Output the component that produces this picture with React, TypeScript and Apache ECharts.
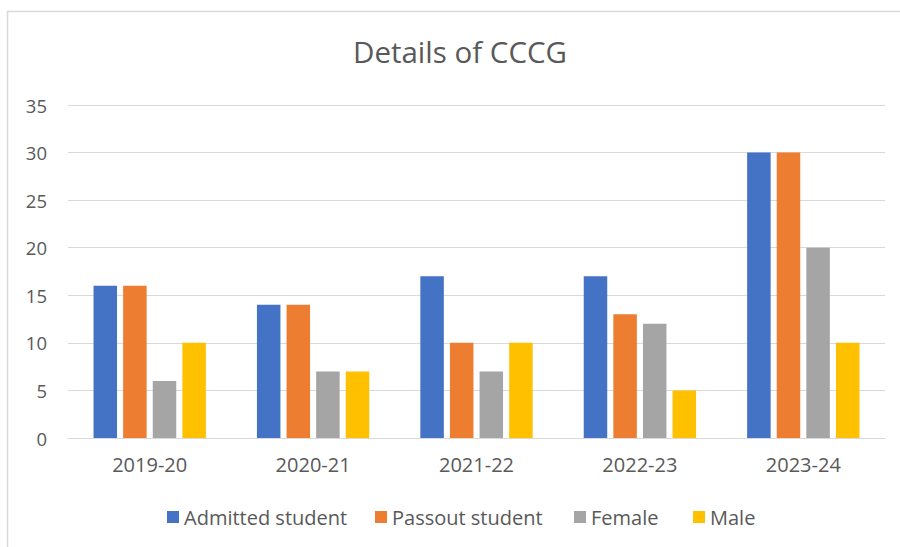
import React, { useEffect, useRef } from "react";
import * as echarts from "echarts";

const categories = ["2019-20", "2020-21", "2021-22", "2022-23", "2023-24"];
const admitted = [16, 14, 17, 17, 30];
const passout = [16, 14, 10, 13, 30];
const female = [6, 7, 7, 12, 20];
const male = [10, 7, 10, 5, 10];
const seriesNames = ["Admitted student", "Passout student", "Female", "Male"];
const colors = ["#4472C4", "#ED7D31", "#A5A5A5", "#FFC000"];
const legendLefts = [167, 375, 574, 693];

const FONT = "'Open Sans', 'Noto Sans', sans-serif";
const TXT = "#595959";

export default function App() {
  const ref = useRef<HTMLDivElement>(null);
  useEffect(() => {
    if (!ref.current) return;
    const chart = echarts.init(ref.current, null, { renderer: "svg" });
    const data = [admitted, passout, female, male];
    chart.setOption({
      animation: false,
      backgroundColor: "#ffffff",
      textStyle: { fontFamily: FONT, color: TXT },
      title: {
        text: "Details of CCCG",
        left: 460,
        textAlign: "center",
        top: 36,
        padding: 0,
        textStyle: { fontFamily: FONT, fontSize: 29.5, fontWeight: "normal", color: TXT },
      },
      graphic: [
        {
          type: "rect",
          shape: { x: 7.5, y: 11.5, width: 1000, height: 1000 },
          style: { fill: "none", stroke: "#d9d9d9", lineWidth: 1.5 },
          silent: true,
          z: -10,
        },
      ],
      legend: seriesNames.map((name, i) => ({
        data: [name],
        left: legendLefts[i],
        top: 507,
        padding: 0,
        icon: "rect",
        itemWidth: 12,
        itemHeight: 12,
        textStyle: { fontFamily: FONT, fontSize: 20, color: TXT },
      })),
      grid: { left: 68, right: 15, top: 105, bottom: 109, containLabel: false },
      xAxis: {
        type: "category",
        data: categories,
        axisLine: { lineStyle: { color: "#d9d9d9", width: 1 } },
        axisTick: { show: false },
        axisLabel: { fontFamily: FONT, fontSize: 20, color: TXT, margin: 16 },
      },
      yAxis: {
        type: "value",
        min: 0,
        max: 35,
        interval: 5,
        axisLine: { show: false },
        axisTick: { show: false },
        splitLine: { lineStyle: { color: "#d9d9d9", width: 1 } },
        axisLabel: { fontFamily: FONT, fontSize: 18.5, color: TXT, margin: 21 },
      },
      series: seriesNames.map((name, i) => ({
        name,
        type: "bar",
        data: data[i],
        barWidth: 23.5,
        barGap: "26%",
        itemStyle: { color: colors[i] },
      })),
    });
    return () => chart.dispose();
  }, []);
  return (
    <div
      ref={ref}
      style={{ position: "fixed", left: 0, top: 0, width: 900, height: 547 }}
    />
  );
}
